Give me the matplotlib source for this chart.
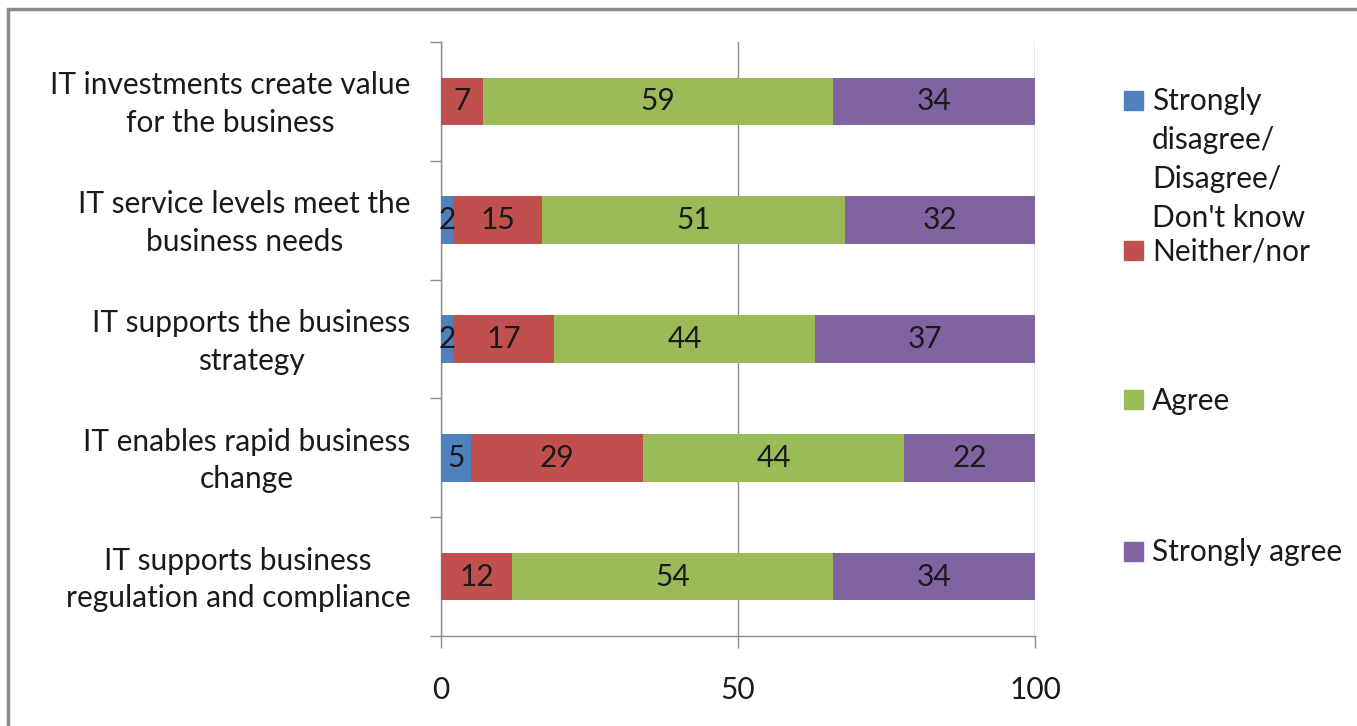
import numpy as np
import matplotlib.pyplot as plt
from matplotlib.patches import Rectangle
from matplotlib.transforms import ScaledTranslation

# dados do gráfico (percentagens)
categorias = ["IT investments create value\nfor the business",
              "IT service levels meet the\nbusiness needs",
              "IT supports the business\nstrategy",
              "IT enables rapid business\nchange",
              "IT supports business\nregulation and compliance"]
series = ["Strongly\ndisagree/\nDisagree/\nDon't know", "Neither/nor", "Agree", "Strongly agree"]
discordo = [0, 2, 2, 5, 0]
neutro = [7, 15, 17, 29, 12]
concordo = [59, 51, 44, 44, 54]
concordo_muito = [34, 32, 37, 22, 34]
x_ticks = [0, 50, 100]

cores = ['#4F81BD', '#C0504D', '#9BBB59', '#8064A2']
valores = [discordo, neutro, concordo, concordo_muito]

plt.rcParams['font.family'] = ['Lato', 'DejaVu Sans']
fs = 21.5
cinza = '#8c8c8c'
texto = '#1a1a1a'

fig = plt.figure(figsize=(13.57, 7.26), dpi=100)
ax = fig.add_axes([441/1357, 1 - 636/726, (1035 - 441)/1357, (636 - 42)/726])

n = len(categorias)
y = np.arange(n)
esq = np.zeros(n)
for vals, cor in zip(valores, cores):
    vals = np.array(vals, dtype=float)
    barras = ax.barh(y, vals, left=esq, height=0.4, color=cor, zorder=3)
    for b, v in zip(barras, vals):
        if v > 0:  # Excel não mostra os zeros
            ax.text(b.get_x() + b.get_width()/2, b.get_y() + b.get_height()/2, f"{int(v)}",
                    ha='center', va='center', fontsize=fs, color=texto, zorder=4)
    esq += vals

ax.set_xlim(0, 100)
ax.set_ylim(n - 0.5, -0.5)
ax.set_xticks(x_ticks)
ax.set_xticklabels([str(t) for t in x_ticks], fontsize=fs, color=texto)
ax.set_yticks(y)
ax.set_yticklabels(categorias, fontsize=fs, color=texto, multialignment='center', linespacing=1.42)
ax.set_yticks(np.arange(n + 1) - 0.5, minor=True)
ax.tick_params(axis='y', which='major', length=0, pad=22)
ax.tick_params(axis='y', which='minor', length=8, color=cinza, width=1.0)
ax.tick_params(axis='x', length=8.6, color=cinza, width=1.0, pad=20)
ax.xaxis.grid(True, color=cinza, linewidth=1.0, zorder=0)
for s in ['top', 'right']:
    ax.spines[s].set_visible(False)
for s in ['left', 'bottom']:
    ax.spines[s].set_color(cinza)
    ax.spines[s].set_linewidth(1.0)

# subir um pouco os rótulos das categorias
sobe = ScaledTranslation(0, 0.045, fig.dpi_scale_trans)
for lab in ax.get_yticklabels():
    lab.set_transform(lab.get_transform() + sobe)

# legenda manual
leg_y = [100, 250, 400, 551]
W, H = 1357, 726
for nome, cor, yy in zip(series, cores, leg_y):
    fig.patches.append(Rectangle((1124/W, 1 - (yy + 9.5)/H), 19/W, 19/H,
                                 transform=fig.transFigure, color=cor))
    fig.text(1152/W, 1 - (yy - 13)/H, nome, ha='left', va='top', fontsize=fs,
             color=texto, linespacing=1.48)

# moldura
fig.patches.append(Rectangle((8/W, -0.1), 1.2, 1 - 9/H + 0.1, transform=fig.transFigure,
                             fill=False, edgecolor='#8a8a8a', linewidth=2.5))

fig.savefig('out.png', dpi=100)
